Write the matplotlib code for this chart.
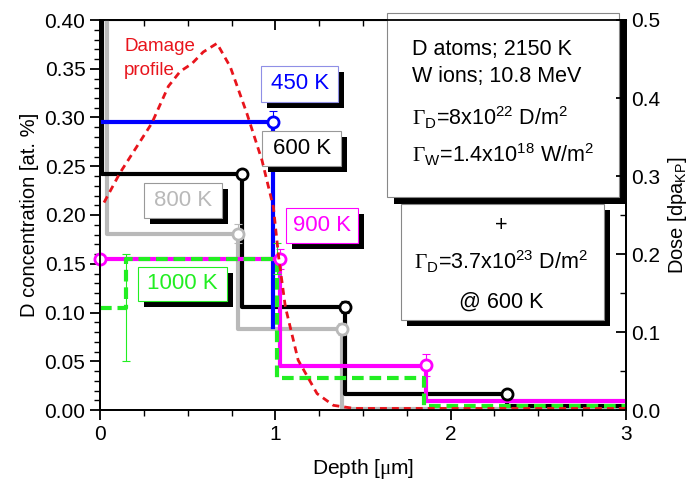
import matplotlib
matplotlib.use('Agg')
import matplotlib.pyplot as plt
import matplotlib.transforms as mtransforms
from matplotlib.patches import Rectangle
from matplotlib.ticker import MultipleLocator, FormatStrFormatter

plt.rcParams['font.family'] = ['Liberation Sans', 'DejaVu Sans']
plt.rcParams['mathtext.fontset'] = 'custom'
plt.rcParams['mathtext.rm'] = 'Liberation Serif'
plt.rcParams['mathtext.sf'] = 'Liberation Sans'
plt.rcParams['mathtext.it'] = 'Liberation Sans:italic'

# D retention step profiles (depth in um, concentration in at.%)
x_450 = [0.0, 0.985, 0.985]
y_450 = [0.295, 0.295, 0.085]
x_600 = [0.012, 0.012, 0.81, 0.81, 1.40, 1.40, 2.32, 2.32, 3.0]
y_600 = [0.45, 0.242, 0.242, 0.106, 0.106, 0.016, 0.016, 0.004, 0.004]
x_800 = [0.04, 0.04, 0.787, 0.787, 1.381, 1.381, 3.0]
y_800 = [0.45, 0.181, 0.181, 0.083, 0.083, 0.001, 0.001]
x_900 = [0.0, 1.025, 1.025, 1.857, 1.857, 3.0]
y_900 = [0.155, 0.155, 0.045, 0.045, 0.009, 0.009]
x_1000 = [0.0, 0.15, 0.15, 1.01, 1.01, 1.85, 1.85, 3.0]
y_1000 = [0.105, 0.105, 0.155, 0.155, 0.033, 0.033, 0.004, 0.004]

# measured points with error bars (open circles)
pt_450 = ([0.985], [0.295], [0.012])
pt_600 = ([0.81, 1.40, 2.32], [0.242, 0.106, 0.016], [0.004, 0.006, 0.002])
pt_800 = ([0.787, 1.381], [0.181, 0.083], [0.01, 0.006])
pt_900 = ([0.0, 1.025, 1.857], [0.155, 0.155, 0.046], [0.0, 0.01, 0.011])
pt_1000 = ([0.15, 1.01], [0.105, 0.155], [0.055, 0.016])

# SRIM damage profile (right axis, dpa)
dmg_x = [0.023, 0.114, 0.295, 0.39, 0.457, 0.524, 0.589, 0.667, 0.743, 0.838, 0.924,
         0.989, 1.019, 1.057, 1.13, 1.238, 1.331, 1.45, 2.0, 2.5, 3.0]
dmg_y = [0.266, 0.304, 0.3675, 0.415, 0.434, 0.444, 0.459, 0.47, 0.44, 0.38, 0.32,
         0.26, 0.196, 0.1325, 0.064, 0.021, 0.006, 0.002, 0.002, 0.002, 0.002]

c_blue = '#0000ff'
c_gray = '#b9b9b9'
c_mag = '#ff00ff'
c_green = '#22ee22'
c_red = '#e8141c'

fig = plt.figure(figsize=(6.99, 4.87), dpi=100)
ax = fig.add_axes([100/699, 77/487, 526/699, 390/487])
ax2 = ax.twinx()

lw = 3
ax.plot(x_800, y_800, color=c_gray, lw=lw, zorder=3)
ax.plot(x_600, y_600, color='black', lw=lw, zorder=3)
ax.plot(x_450, y_450, color=c_blue, lw=lw, zorder=4)
ax.plot(x_900, y_900, color=c_mag, lw=lw, zorder=4)
ax.plot(x_1000, y_1000, color=c_green, lw=lw, ls=(0, (2.8, 1.4)), zorder=5)

for pts, col in [(pt_450, c_blue), (pt_600, 'black'), (pt_800, c_gray),
                 (pt_900, c_mag), (pt_1000, c_green)]:
    ax.errorbar(pts[0], pts[1], yerr=pts[2], fmt='none', ecolor=col, elinewidth=0.8,
                capsize=3, capthick=0.8, zorder=4)
for pts, col in [(pt_450, c_blue), (pt_600, 'black'), (pt_800, c_gray), (pt_900, c_mag)]:
    ax.plot(pts[0], pts[1], ls='none', marker='o', ms=8, mfc='white', mec=col, mew=2,
            zorder=6, clip_on=False)

ax2.plot(dmg_x, dmg_y, color=c_red, lw=2, ls=(0, (2.5, 1.8)), zorder=2)

ax.set_xlim(0, 3)
ax.set_ylim(0, 0.4)
ax2.set_ylim(0, 0.5)
ax2.set_zorder(ax.get_zorder() + 1)
ax2.patch.set_visible(False)

ax.xaxis.set_major_locator(MultipleLocator(1))
ax.xaxis.set_minor_locator(MultipleLocator(0.25))
ax.yaxis.set_major_locator(MultipleLocator(0.05))
ax.yaxis.set_minor_locator(MultipleLocator(0.01))
ax2.yaxis.set_major_locator(MultipleLocator(0.1))
ax2.yaxis.set_minor_locator(MultipleLocator(0.05))
ax.yaxis.set_major_formatter(FormatStrFormatter('%.2f'))
ax2.yaxis.set_major_formatter(FormatStrFormatter('%.1f'))

ax.tick_params(axis='both', which='major', labelsize=15, width=1.3, length=7)
ax.tick_params(axis='both', which='minor', width=1.0, length=4)
ax.tick_params(axis='x', which='both', direction='out', top=False)
ax.tick_params(axis='y', which='both', direction='out')
ax2.tick_params(axis='y', which='major', labelsize=15, width=1.3, length=7, direction='in')
ax2.tick_params(axis='y', which='minor', width=1.0, length=4, direction='in')
for a in (ax, ax2):
    for s in a.spines.values():
        s.set_linewidth(1.3)

secx = ax.secondary_xaxis('top')
secx.xaxis.set_major_locator(MultipleLocator(1))
secx.xaxis.set_minor_locator(MultipleLocator(0.25))
secx.tick_params(which='major', direction='in', length=7, width=1.3, labeltop=False)
secx.tick_params(which='minor', direction='in', length=4, width=1.0)

ax.set_xlabel(r'Depth [$\mathrm{\mu}$m]', fontsize=15, labelpad=10)
ax.set_ylabel('D concentration [at. %]', fontsize=14.5, labelpad=4)
ax2.set_ylabel(r'Dose [dpa$_{\mathsf{KP}}$]', fontsize=14.5, labelpad=4)


def shadow_box(x0, y0, x1, y1, edge, off=5):
    tr = mtransforms.offset_copy(ax.transData, fig=fig, x=off, y=-off, units='dots')
    ax.add_patch(Rectangle((x0, y0), x1 - x0, y1 - y0, facecolor='black',
                           edgecolor='none', transform=tr, zorder=7, clip_on=False))
    ax.add_patch(Rectangle((x0, y0), x1 - x0, y1 - y0, facecolor='white',
                           edgecolor=edge, lw=0.8, zorder=8, clip_on=False))


labels = [('450 K', c_blue, '#8f8fe6', 0.92, 0.316, 1.36, 0.353),
          ('600 K', 'black', '#999999', 0.926, 0.2506, 1.375, 0.286),
          ('800 K', c_gray, '#999999', 0.251, 0.197, 0.695, 0.233),
          ('900 K', c_mag, c_mag, 1.063, 0.171, 1.474, 0.207),
          ('1000 K', c_green, c_green, 0.217, 0.112, 0.724, 0.147)]
for txt, tc, ec, x0, y0, x1, y1 in labels:
    shadow_box(x0, y0, x1, y1, ec, off=6)
    ax.text((x0 + x1) / 2, (y0 + y1) / 2, txt, color=tc, fontsize=16,
            ha='center', va='center', zorder=9)

shadow_box(1.638, 0.218, 2.96, 0.4075, '#888888', off=7)
shadow_box(1.718, 0.0923, 2.874, 0.211, '#888888', off=6)

info1 = ['D atoms; 2150 K', 'W ions; 10.8 MeV',
         r'$\Gamma_{\mathsf{D}}$=8x10$^{\mathsf{22}}$ D/m$^{\mathsf{2}}$',
         r'$\Gamma_{\mathsf{W}}$=1.4x10$^{\mathsf{18}}$ W/m$^{\mathsf{2}}$']
info1_y = [0.370, 0.342, 0.2995, 0.2615]
for t, yy in zip(info1, info1_y):
    ax.text(1.781, yy, t, fontsize=15.5, ha='left', va='center', zorder=9)

info2 = ['+', r'$\Gamma_{\mathsf{D}}$=3.7x10$^{\mathsf{23}}$ D/m$^{\mathsf{2}}$', '@ 600 K']
info2_y = [0.1897, 0.152, 0.111]
for t, yy in zip(info2, info2_y):
    ax.text(2.286, yy, t, fontsize=15.5, ha='center', va='center', zorder=9)

ax.text(0.137, 0.3726, 'Damage', color=c_red, fontsize=13.5, ha='left', va='center', zorder=9)
ax.text(0.137, 0.3477, 'profile', color=c_red, fontsize=13.5, ha='left', va='center', zorder=9)

fig.savefig('out.png', dpi=100)
